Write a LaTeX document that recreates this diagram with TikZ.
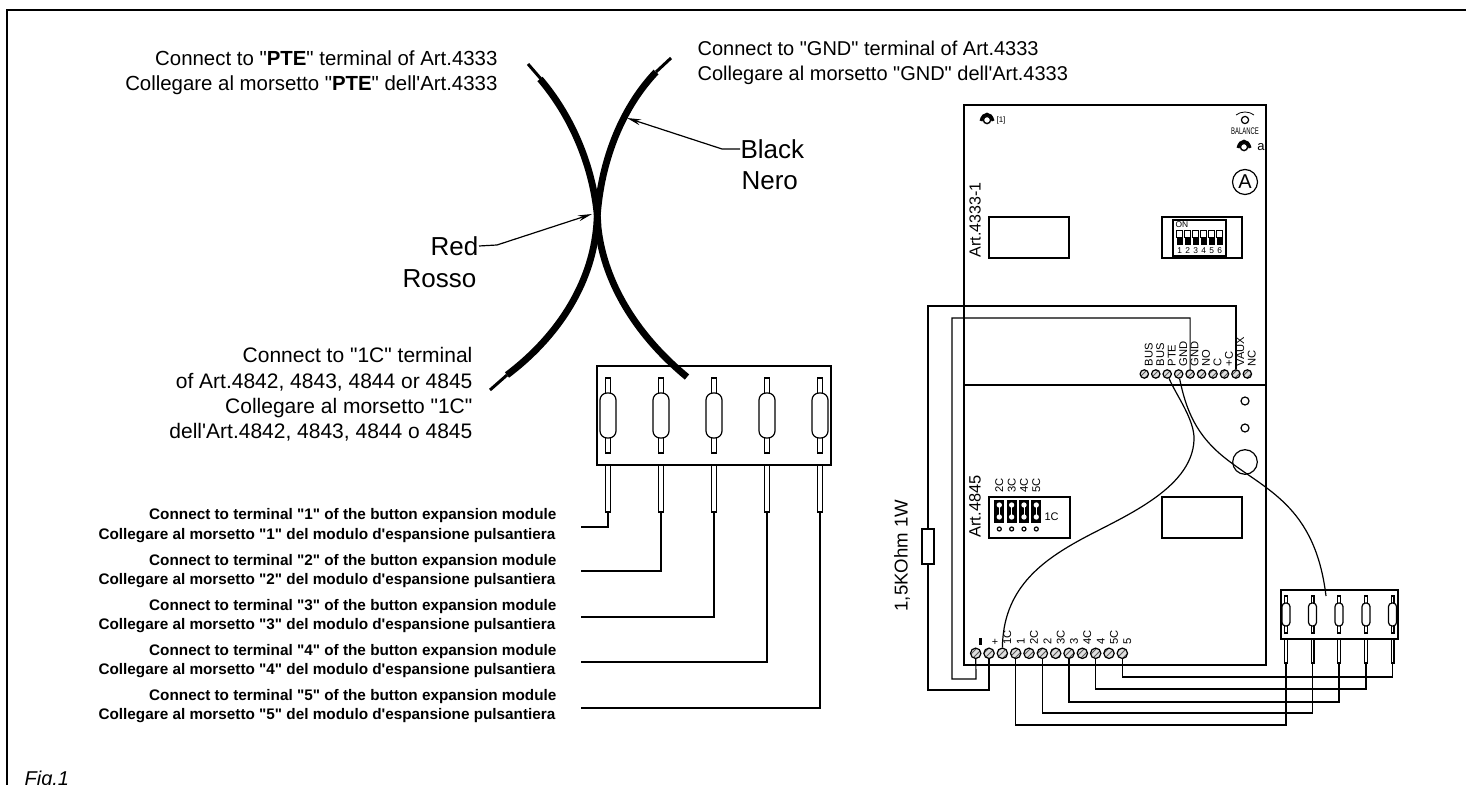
\documentclass[tikz,border=0pt]{standalone}
\usepackage{fontspec}
\usepackage{graphicx}
\usetikzlibrary{arrows.meta,patterns}
\newfontfamily\arial{Liberation Sans}
\newcommand{\fs}[1]{\arial\fontsize{#1}{12.6}\selectfont}

\begin{document}
\begin{tikzpicture}[x=0.5pt,y=-0.5pt,line width=.6pt]
\tikzstyle{every node}=[inner sep=0pt];
\tikzstyle{screw}=[draw,shape=circle,preaction={fill=gray!25},pattern=north east lines,pattern color=gray!70!black];
\tikzstyle{terminal}=[rotate=90,anchor=west,font=\fs{5.6}];
\tikzstyle{hole}=[draw,shape=circle,fill=white];
\tikzstyle{boxed}=[draw,shape=rectangle,fill=white];
\tikzstyle{bigpin}=[boxed,minimum width=2.3pt];
\tikzstyle{bigoval}=[boxed,rounded corners=3.5pt,minimum width=8pt,minimum height=22.5pt];
\tikzstyle{minipin}=[boxed,minimum width=1.4pt];
\tikzstyle{minioval}=[boxed,rounded corners=1.8pt,minimum width=4pt,minimum height=11.5pt];
\tikzstyle{tip}=[-{Stealth[length=7pt,width=3pt]}];
\clip (0,0) rectangle (1466,785);
\useasboundingbox (0,0) rectangle (1466,785);

% frame
\draw [line width=1.3pt] (7,785) -- (7,10) -- (1466,10);
\node (fig) [anchor=base west,font=\fs{10}\itshape] at (24,785) {Fig.1};

% texts at the cables
\node (pte) [anchor=east,align=right,font=\fs{10.2}] at (498,72.5) {Connect to "\textbf{PTE}" terminal of Art.4333\\Collegare al morsetto "\textbf{PTE}" dell'Art.4333};
\node (gnd) [anchor=west,align=left,font=\fs{10}] at (697,63) {Connect to "GND" terminal of Art.4333\\Collegare al morsetto "GND" dell'Art.4333};
\node (onec) [anchor=east,align=right,font=\fs{10.5}] at (473,394.5) {Connect to "1C" terminal\\of Art.4842, 4843, 4844 or 4845\\Collegare al morsetto "1C"\\dell'Art.4842, 4843, 4844 o 4845};
\node (black) [anchor=west,font=\fs{13}] at (740,149) {Black};
\node (nero) [anchor=west,font=\fs{13}] at (741,181) {Nero};
\node (red) [anchor=east,font=\fs{13}] at (479,246) {Red};
\node (rosso) [anchor=east,font=\fs{13}] at (477,279) {Rosso};

% big button module
\node (bigbox) [boxed,minimum width=117pt,minimum height=49.5pt] at (714,415.5) {};
\foreach \i/\x in {1/608,2/661,3/714,4/767,5/820} {
  \node (bu\i) [bigpin,minimum height=37.5pt] at (\x,415.5) {};
  \node (bo\i) [bigoval] at (\x,415.5) {};
  \node (bp\i) [bigpin,minimum height=23.5pt] at (\x,488.5) {};
}
\foreach \i/\y/\a/\b in {1/527/516/536,2/571/561.5/581,3/617/607/626,4/662/652/671,5/708/697/716} {
  \coordinate (e\i) at (581,\y);
  \draw (bp\i.south) |- (e\i);
  \node (ca\i) [anchor=east,font=\fs{7.65}\bfseries] at (557,\a) {Connect to terminal "\i" of the button expansion module};
  \node (cb\i) [anchor=east,font=\fs{7.65}\bfseries] at (556,\b) {Collegare al morsetto "\i" del modulo d'espansione pulsantiera};
}

% cables
\draw [line width=1.5pt] (528,64) -- (541,79);
\draw [line width=3.4pt] (540,79) .. controls (575,120) and (596,175) .. (598,227) .. controls (603,275) and (630,330) .. (687,377);
\draw [line width=1.5pt] (671,58) -- (656,72);
\draw [line width=1.5pt] (507,375) -- (490,390);
\draw [line width=3.4pt] (656,72) .. controls (620,110) and (600,165) .. (597,220) .. controls (594,280) and (560,335) .. (507,375);
\coordinate (blacktip) at (627,118);
\coordinate (redtip) at (592,214);
\draw [tip] (black.west) -- (722,149) -- (blacktip);
\draw [tip] (red.east) -- (497,245) -- (redtip);

% intercom unit
\node (panel) [draw,shape=rectangle,minimum width=151pt,minimum height=280pt] at (1115,385) {};
\draw (panel.west) -- (panel.east);
\node (arta) [rotate=90,anchor=west,font=\fs{8}] at (975,258) {Art.4333-1};
\node (artb) [rotate=90,anchor=west,font=\fs{8.2}] at (975,538) {Art.4845};
\node (disp) [boxed,minimum width=40pt,minimum height=20.5pt] at (1029,237.5) {};
\node (dipbox) [boxed,minimum width=40pt,minimum height=20.5pt] at (1202,237.5) {};
\node (dip) [boxed,minimum width=26.5pt,minimum height=18pt] at (1199.5,238) {};
\node (on) [anchor=west,font=\fs{4.2}] at (1175,224.5) {ON};
\foreach \i in {1,...,6} {
  \pgfmathsetmacro{\sx}{1176.7+8*(\i-1)}
  \draw [line width=.3pt] (\sx,230) rectangle +(6,7);
  \fill (\sx,237) rectangle +(6,8);
  \node (dn\i) [font=\fs{4.2}] at (\sx+3,250.5) {\i};
}
\foreach \n/\x/\y in {tl/987/120,tr/1244/147} {
  \draw [line width=1.5pt] (\x-6,\y+1) .. controls (\x-4,\y-8) and (\x+4,\y-8) .. (\x+6,\y+1);
  \node (\n) [hole,minimum size=3.6pt,line width=.7pt] at (\x,\y) {};
}
\node (tlmark) [font=\fs{4}] at (1001,120) {[1]};
\node (trmark) [font=\fs{6.5}] at (1261,147) {a};
\node (bal) [hole,minimum size=3.6pt] at (1245,120) {};
\draw [line width=.4pt] (1236,115) .. controls (1241,111) and (1249,111) .. (1254,115);
\node (baltxt) [font=\fs{4.8}] at (1245,131) {\scalebox{.62}[1]{BALANCE}};
\node (mark) [draw,shape=circle,minimum size=12.5pt,font=\fs{10}] at (1245,182) {A};

% upper terminals
\foreach \i/\t in {1/BUS,2/BUS,3/PTE,4/GND,5/GND,6/NO,7/C,8/+C,9/VAUX,10/NC} {
  \pgfmathsetmacro{\sx}{1144.3+11.45*(\i-1)}
  \node (st\i) [screw,minimum size=4.2pt] at (\sx,374) {};
  \node (tt\i) [terminal] at (\sx+4.5,367) {\t};
}
\node (la) [hole,minimum size=4pt] at (1245,401) {};
\node (lb) [hole,minimum size=4pt] at (1245,428) {};
\node (lens) [draw,shape=circle,minimum size=12.3pt] at (1245,462) {};
\node (relay) [boxed,minimum width=40pt,minimum height=20.5pt] at (1202,517.5) {};

% jumpers
\node (jbox) [boxed,minimum width=40.5pt,minimum height=20.5pt] at (1029.5,517.5) {};
\foreach \i/\t in {1/2C,2/3C,3/4C,4/5C} {
  \pgfmathsetmacro{\jx}{999.3+12.33*(\i-1)}
  \fill (\jx-5,500) rectangle (\jx+5,523);
  \draw [white,line width=.4pt] (\jx,505) -- (\jx,517);
  \node (ja\i) [hole,draw=white,minimum size=2pt] at (\jx,505) {};
  \node (jb\i) [hole,draw=white,minimum size=2pt] at (\jx,517) {};
  \node (jc\i) [hole,minimum size=2pt] at (\jx,529) {};
  \node (jt\i) [terminal] at (\jx,493) {\t};
}
\node (jone) [anchor=west,font=\fs{5.5}] at (1044,517) {1C};

% lower terminals
\foreach \i/\t in {1/,2/,3/1C,4/1,5/2C,6/2,7/3C,8/3,9/4C,10/4,11/5C,12/5} {
  \pgfmathsetmacro{\sx}{975.7+13.33*(\i-1)}
  \node (sb\i) [screw,minimum size=5.2pt] at (\sx,653.3) {};
  \node (tb\i) [terminal] at (\sx+5,645) {\t};
}
\fill (978.5,638) rectangle (981.5,645);
\node (plus) [font=\fs{5.4}] at (995,642) {+};

% mini module
\node (minibox) [boxed,minimum width=58.5pt,minimum height=24.5pt] at (1339.5,614.5) {};
\foreach \i/\x in {1/1286,2/1312.5,3/1339,4/1366,5/1392.5} {
  \node (mu\i) [minipin,minimum height=18.5pt] at (\x,614.5) {};
  \node (mo\i) [minioval] at (\x,614.5) {};
  \node (mp\i) [minipin,minimum height=12pt] at (\x,651) {};
}

% resistor
\node (res) [boxed,minimum width=6pt,minimum height=17.5pt] at (928,546.5) {};
\node (restxt) [rotate=90,anchor=west,font=\fs{9.3}] at (902,612) {1,5KOhm 1W};

% wiring
\draw (res.north) -- (928,306) -| (st9);
\draw (res.south) -- (928,690) -| (sb2);
\draw (sb1) -- (976,679) -- (952,679) -- (952,318) -| (st5);
\foreach \s/\p/\y in {12/5/677,10/4/689,8/3/702,6/2/713,4/1/725} {
  \draw (sb\s) |- (mp\p.south |- 0,\y) -- (mp\p.south);
}
\draw (st3) .. controls (1176,395) and (1195,420) .. (1194,440) .. controls (1192,490) and (1120,518) .. (1080,540) .. controls (1040,562) and (1003,590) .. (sb3);
\coordinate (miniend) at (1326,596);
\draw (st4) .. controls (1186,410) and (1196,435) .. (1225,458) .. controls (1265,490) and (1315,505) .. (miniend);
\end{tikzpicture}
\end{document}
